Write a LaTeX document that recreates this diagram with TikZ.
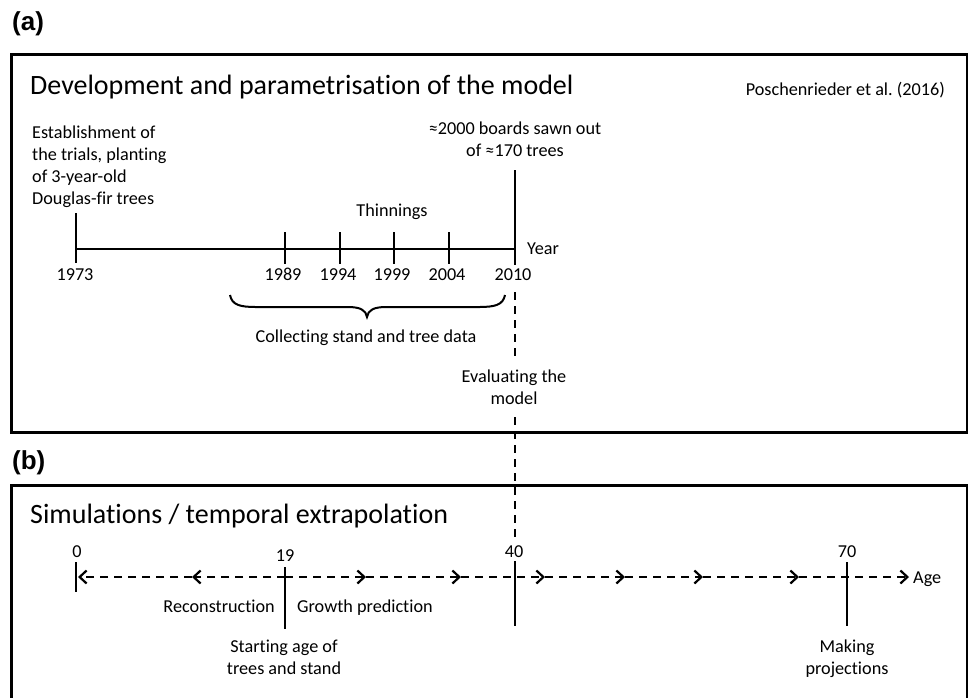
\documentclass[tikz,border=0pt]{standalone}
\usepackage{fontspec}
\setmainfont{Carlito}[Ligatures=NoCommon]
\newfontfamily\labfont{Liberation Sans}
\usetikzlibrary{arrows.meta}
\newcommand\mlc[1]{\begin{tabular}[t]{@{}c@{}}#1\end{tabular}}
\newcommand\mll[1]{\begin{tabular}[t]{@{}l@{}}#1\end{tabular}}
\frenchspacing
\begin{document}
\begin{tikzpicture}[x=1pt,y=-1pt,
  txt/.style={inner sep=0pt, font=\fontsize{18.2}{22}\selectfont},
  ttl/.style={inner sep=0pt, font=\fontsize{28}{32}\selectfont, anchor=base west},
  lab/.style={inner sep=0pt, anchor=base west, font=\labfont\bfseries\fontsize{26}{28}\selectfont},
  panel/.style={draw, line width=3pt},
  axis/.style={line width=2.2pt},
  tickline/.style={line width=2pt},
  dsh/.style={line width=2.2pt, dash pattern=on 8pt off 6pt},
  dar/.style={dsh, -{Straight Barb[length=7pt,width=13pt]}},
  ]
\useasboundingbox (0,0) rectangle (968,697);
\clip (0,0) rectangle (968,697);

% panel labels
\node[lab] (la) at (12,30) {(a)};
\node[lab] (lb) at (12,469) {(b)};

% panels
\draw[panel] (11,54) rectangle (967,432);
\draw[panel] (11,485) rectangle (967,720);

% ---------- panel (a)
\node[ttl] (ta) at (30,94.5) {Development and parametrisation of the model};
\node[txt, anchor=base east] (ref) at (945,95) {Poschenrieder et al. (2016)};

\coordinate (y73) at (76,249);
\coordinate (y10) at (515,249);
\draw[axis] (y73) -- (y10);
\draw[tickline] (76,213) -- (76,263);
\draw[tickline] (285,232) -- (285,264);
\draw[tickline] (340,232) -- (340,264);
\draw[tickline] (394,232) -- (394,264);
\draw[tickline] (449,232) -- (449,264);
\draw[tickline] (515,170) -- (515,265);

\node[txt, anchor=base west] (est) at (32,138) {\mll{Establishment of\\the trials, planting\\of 3-year-old\\Douglas-fir trees}};
\node[txt, anchor=base] (boards) at (515,134) {\mlc{≈2000 boards sawn out\\of ≈170 trees}};
\node[txt, anchor=base] (thin) at (392,216) {Thinnings};
\node[txt, anchor=base west] (year) at (527,254) {Year};

\node[txt, anchor=base] (l73) at (75,280) {1973};
\node[txt, anchor=base] (l89) at (283,280) {1989};
\node[txt, anchor=base] (l94) at (338,280) {1994};
\node[txt, anchor=base] (l99) at (392,280) {1999};
\node[txt, anchor=base] (l04) at (447,280) {2004};
\node[txt, anchor=base] (l10) at (513,280) {2010};

% brace
\coordinate (bl) at (230,295);
\coordinate (br) at (505,295);
\coordinate (bt) at (367,317);
\draw[line width=2pt] (bl) .. controls (232,305) and (240,307) .. (256,307)
  -- (348,307) .. controls (360,307) and (366,310) .. (bt)
  .. controls (368,310) and (374,307) .. (386,307)
  -- (479,307) .. controls (495,307) and (503,305) .. (br);
\node[txt, anchor=base] (coll) at (366,342) {Collecting stand and tree data};

% evaluation dashed link
\node[txt, anchor=base] (eval) at (514,382) {\mlc{Evaluating the\\model}};
\coordinate (v1) at (515,292);
\coordinate (v2) at (515,360);
\coordinate (v3) at (515,417);
\coordinate (v4) at (515,540);
\draw[dsh] (v1) -- (v2);
\draw[dsh] (v3) -- (v4);

% ---------- panel (b)
\node[ttl] (tb) at (30,523) {Simulations / temporal extrapolation};

\coordinate (a0) at (78,577);
\coordinate (r1) at (192,577);
\coordinate (a19) at (285,577);
\coordinate (p1) at (366,577);
\coordinate (p2) at (461,577);
\coordinate (p3) at (545,577);
\coordinate (p4) at (625,577);
\coordinate (p5) at (703,577);
\coordinate (p6) at (799,577);
\coordinate (pend) at (909,577);
\draw[dar] (a19) -- (r1);
\draw[dar] (r1) -- (a0);
\draw[dar] (a19) -- (p1);
\draw[dar] (p1) -- (p2);
\draw[dar] (p2) -- (p3);
\draw[dar] (p3) -- (p4);
\draw[dar] (p4) -- (p5);
\draw[dar] (p5) -- (p6);
\draw[dar] (p6) -- (pend);

\draw[tickline] (76,562) -- (76,592);
\draw[tickline] (285,567) -- (285,629);
\draw[tickline] (515,561) -- (515,626);
\draw[tickline] (847,562) -- (847,626);

\node[txt, anchor=base] (n0) at (77,557) {0};
\node[txt, anchor=base] (n19) at (285,561) {19};
\node[txt, anchor=base] (n40) at (514,557) {40};
\node[txt, anchor=base] (n70) at (847,557) {70};
\node[txt, anchor=base west] (age) at (913,583) {Age};

\node[txt, anchor=base east] (rec) at (275,612) {Reconstruction};
\node[txt, anchor=base west] (grow) at (297,612) {Growth prediction};
\node[txt, anchor=base] (start) at (284,652) {\mlc{Starting age of\\trees and stand}};
\node[txt, anchor=base] (proj) at (847,652) {\mlc{Making\\projections}};
\end{tikzpicture}
\end{document}
